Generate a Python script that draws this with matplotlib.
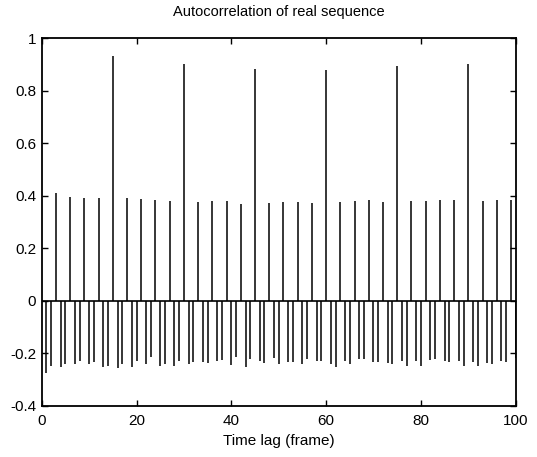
import matplotlib
matplotlib.use("Agg")
import matplotlib.pyplot as plt
from matplotlib import font_manager

# Data: autocorrelation values per time lag (frames)
pos_lags = [3, 6, 9, 12, 15, 18, 21, 24, 27, 30, 33, 36, 39, 42, 45, 48,
            51, 54, 57, 60, 63, 66, 69, 72, 75, 78, 81, 84, 87, 90, 93, 96, 99]
pos_vals = [0.409, 0.396, 0.392, 0.390, 0.933, 0.392, 0.389, 0.385, 0.380, 0.903,
            0.377, 0.380, 0.380, 0.370, 0.883, 0.372,
            0.377, 0.376, 0.374, 0.880, 0.377, 0.380, 0.382, 0.376, 0.893,
            0.380, 0.380, 0.385, 0.385, 0.902, 0.380, 0.385, 0.382]

neg_lags = [1, 2, 4, 5, 7, 8, 10, 11, 13, 14, 16, 17, 19, 20, 22, 23, 25, 26,
            28, 29, 31, 32, 34, 35, 37, 38, 40, 41, 43, 44, 46, 47, 49, 50,
            52, 53, 55, 56, 58, 59, 61, 62, 64, 65, 67, 68, 70, 71, 73, 74,
            76, 77, 79, 80, 82, 83, 85, 86, 88, 89, 91, 92, 94, 95, 97, 98, 100]
neg_vals = [-0.275, -0.250, -0.254, -0.240, -0.240, -0.230, -0.240, -0.235, -0.254, -0.250,
            -0.258, -0.240, -0.254, -0.229, -0.240, -0.216, -0.250, -0.240,
            -0.250, -0.229, -0.240, -0.232, -0.235, -0.237, -0.229, -0.225,
            -0.245, -0.216, -0.254, -0.222, -0.229, -0.237, -0.220, -0.240,
            -0.235, -0.232, -0.240, -0.222, -0.229, -0.229, -0.240, -0.254,
            -0.229, -0.240, -0.222, -0.222, -0.235, -0.235, -0.237, -0.240,
            -0.229, -0.250, -0.229, -0.248, -0.225, -0.222, -0.229, -0.232,
            -0.229, -0.248, -0.235, -0.248, -0.237, -0.240, -0.229, -0.235, -0.220]

x_ticks = [0, 20, 40, 60, 80, 100]
y_ticks = [-0.4, -0.2, 0, 0.2, 0.4, 0.6, 0.8, 1]
y_tick_labels = ["-0.4", "-0.2", "0", "0.2", "0.4", "0.6", "0.8", "1"]

plt.rcParams["font.family"] = ["Liberation Sans", "DejaVu Sans"]

fig = plt.figure(figsize=(5.37, 4.57), dpi=100)
ax = fig.add_axes([0.0777, 0.1123, 0.8826, 0.8039])

ax.vlines(pos_lags, 0, pos_vals, colors="black", linewidth=1.1)
ax.vlines(neg_lags, 0, neg_vals, colors="black", linewidth=1.1)
ax.axhline(0, color="black", linewidth=1.2)

ax.set_xlim(0, 100)
ax.set_ylim(-0.4, 1)
ax.set_xticks(x_ticks)
ax.set_xticklabels([str(t) for t in x_ticks])
ax.set_yticks(y_ticks)
ax.set_yticklabels(y_tick_labels)
ax.tick_params(direction="in", top=True, right=True, length=4, width=1,
               labelsize=11)
ax.tick_params(axis="x", pad=6)
ax.tick_params(axis="y", pad=4)
for s in ax.spines.values():
    s.set_linewidth(1.3)

ax.set_title("Autocorrelation of real sequence", fontsize=10.5, pad=16)
ax.set_xlabel("Time lag (frame)", fontsize=11, labelpad=4)

fig.savefig("out.png", dpi=100)
